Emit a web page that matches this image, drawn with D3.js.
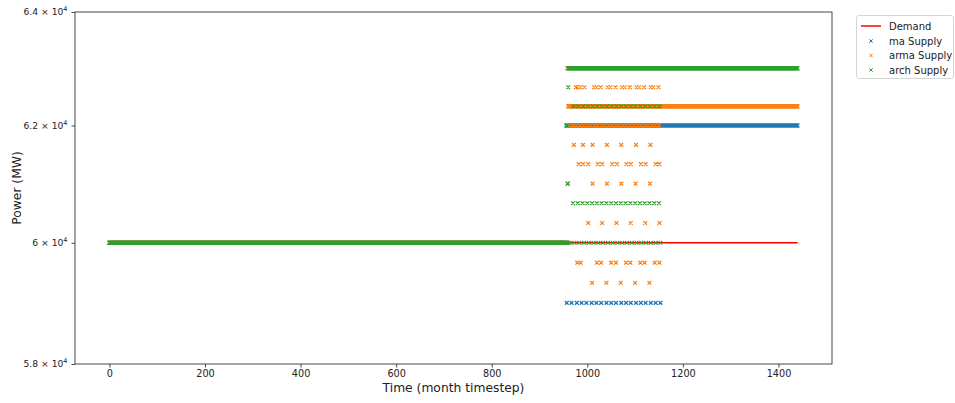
<!DOCTYPE html>
<html><head><meta charset="utf-8">
<script src="https://cdn.jsdelivr.net/npm/d3@7"></script>
<style>
body{margin:0;background:#fff;}
text{font-family:"DejaVu Sans",sans-serif;fill:#222;}
</style></head>
<body><svg id="chart" width="955" height="403"></svg>
<script>
// ---------------- data ----------------
const xTicks = [0, 200, 400, 600, 800, 1000, 1200, 1400];
const yTicks = [58000, 60000, 62000, 64000];
const yTickMantissa = ["5.8", "6", "6.2", "6.4"];
const seriesNames = ["ma Supply", "arma Supply", "arch Supply"];

// Demand line (time, MW)
const demandTime = [0, 1440];
const demandValue = [60000, 60000];

// runs: [first timestep, last timestep, value] (one sample per timestep)
const maRuns   = [[0, 955, 60000], [956, 1440, 62000]];
const armaRuns = [[0, 959, 60000], [960, 1440, 62333]];
const archRuns = [[0, 959, 60000], [960, 1440, 63000]];

// isolated samples: value -> timesteps
const maPoints = [
  [59000, [957, 967, 978, 988, 998, 1009, 1019, 1029, 1040, 1050, 1060, 1071, 1081, 1091, 1102, 1112, 1122, 1133, 1143, 1153]]
];
const armaPoints = [
  [63000, [958]],
  [62667, [976, 980, 985, 994, 1014, 1019, 1028, 1043, 1048, 1059, 1073, 1078, 1089, 1103, 1108, 1119, 1133, 1138, 1149]],
  [62000, [962, 970, 977, 985, 992, 1000, 1007, 1015, 1022, 1030, 1037, 1045, 1052, 1060, 1067, 1075, 1082, 1090, 1097, 1105, 1112, 1120, 1127, 1135, 1142, 1150]],
  [61667, [972, 991, 1011, 1041, 1071, 1102, 1132]],
  [61333, [982, 991, 1002, 1022, 1031, 1052, 1062, 1082, 1091, 1112, 1122, 1143, 1151]],
  [61000, [959, 1011, 1041, 1071, 1101, 1131]],
  [60333, [1002, 1031, 1061, 1091, 1121, 1151]],
  [59667, [979, 986, 1020, 1029, 1050, 1060, 1081, 1090, 1111, 1120, 1141, 1151]],
  [59333, [1010, 1040, 1070, 1100, 1130]]
];
const archPoints = [
  [62667, [960]],
  [62333, [971, 981, 991, 1001, 1011, 1021, 1031, 1041, 1051, 1061, 1071, 1081, 1091, 1101, 1111, 1121, 1131, 1141, 1151]],
  [62000, [957]],
  [61000, [959]],
  [60667, [970, 980, 990, 1000, 1010, 1020, 1030, 1040, 1050, 1060, 1070, 1080, 1090, 1100, 1110, 1120, 1130, 1140, 1150]],
  [60000, [963, 973, 983, 993, 1003, 1013, 1023, 1033, 1043, 1053, 1063, 1073, 1083, 1093, 1103, 1113, 1123, 1133, 1143, 1153]]
];

const colors = {demand: "#ff0000", ma: "#1f77b4", arma: "#ff7f0e", arch: "#2ca02c"};

// ---------------- drawing ----------------
const svg = d3.select("#chart");
const L = 75, R = 832, T = 12, B = 364;
const x = d3.scaleLinear().domain([-72, 1512]).range([L, R]);
const y = d3.scaleLog().domain([58000, 64000]).range([B, T]);

function expand(runs, points) {
  const out = [];
  runs.forEach(([a, b, v]) => { for (let t = a; t <= b; t++) out.push([t, v]); });
  points.forEach(([v, ts]) => ts.forEach(t => out.push([t, v])));
  return out;
}
function xPath(data, h) {
  let p = "";
  data.forEach(([t, v]) => {
    const cx = x(t), cy = y(v);
    p += `M${cx - h},${cy - h}L${cx + h},${cy + h}M${cx - h},${cy + h}L${cx + h},${cy - h}`;
  });
  return p;
}

const plot = svg.append("g");
// demand line
const demand = demandTime.map((t, i) => [t, demandValue[i]]);
plot.append("path").attr("d", d3.line().x(d => x(d[0])).y(d => y(d[1]))(demand))
  .attr("fill", "none").attr("stroke", colors.demand).attr("stroke-width", 1.5);

const H = 1.9;
[[maRuns, maPoints, colors.ma], [armaRuns, armaPoints, colors.arma], [archRuns, archPoints, colors.arch]]
  .forEach(([runs, pts, c]) => {
    plot.append("path").attr("d", xPath(expand(runs, pts), H))
      .attr("fill", "none").attr("stroke", c).attr("stroke-width", 1.25);
  });

// frame
svg.append("rect").attr("x", L).attr("y", T).attr("width", R - L).attr("height", B - T)
  .attr("fill", "none").attr("stroke", "#333").attr("stroke-width", 0.9);

// x axis
const xAxis = svg.append("g").attr("transform", `translate(0,${B})`)
  .call(d3.axisBottom(x).tickValues(xTicks).tickSize(3.5).tickPadding(3).tickFormat(d3.format("d")));
xAxis.select(".domain").remove();
xAxis.selectAll("line").attr("stroke", "#333").attr("stroke-width", 0.9);
xAxis.selectAll("text").attr("font-size", 9.7).attr("fill", "#222").attr("font-family", "DejaVu Sans");

// y axis
const yAxis = svg.append("g").attr("transform", `translate(${L},0)`)
  .call(d3.axisLeft(y).tickValues(yTicks).tickSize(3.5).tickPadding(4).tickFormat(() => ""));
yAxis.select(".domain").remove();
yAxis.selectAll("line").attr("stroke", "#333").attr("stroke-width", 0.9);
yAxis.selectAll(".tick text").each(function(d, i) {
  const t = d3.select(this).attr("font-size", 9.2).attr("fill", "#222").attr("font-family", "DejaVu Sans");
  t.append("tspan").text(yTickMantissa[i] + " × 10");
  t.append("tspan").text("4").attr("font-size", 6.5).attr("dy", -4);
});

// axis labels
svg.append("text").attr("x", (L + R) / 2).attr("y", 392).attr("text-anchor", "middle")
  .attr("font-size", 12.3).text("Time (month timestep)");
svg.append("text").attr("transform", `translate(21,${(T + B) / 2}) rotate(-90)`)
  .attr("text-anchor", "middle").attr("font-size", 12.3).text("Power (MW)");

// legend
const lg = svg.append("g");
lg.append("rect").attr("x", 856.5).attr("y", 15.5).attr("width", 97).attr("height", 63).attr("rx", 2.5)
  .attr("fill", "#fff").attr("stroke", "#d0d0d0").attr("stroke-width", 0.9);
const rowY = [26, 41, 55.5, 70];
lg.append("line").attr("x1", 861).attr("x2", 881).attr("y1", rowY[0]).attr("y2", rowY[0])
  .attr("stroke", colors.demand).attr("stroke-width", 1.5);
lg.append("text").attr("x", 889).attr("y", rowY[0] + 3.6).attr("font-size", 10).text("Demand");
[colors.ma, colors.arma, colors.arch].forEach((c, i) => {
  const cy = rowY[i + 1], cx = 871, h = 1.7;
  lg.append("path").attr("d", `M${cx - h},${cy - h}L${cx + h},${cy + h}M${cx - h},${cy + h}L${cx + h},${cy - h}`)
    .attr("stroke", c).attr("stroke-width", 1).attr("fill", "none");
  lg.append("text").attr("x", 889).attr("y", cy + 3.6).attr("font-size", 10).text(seriesNames[i]);
});
</script></body></html>
